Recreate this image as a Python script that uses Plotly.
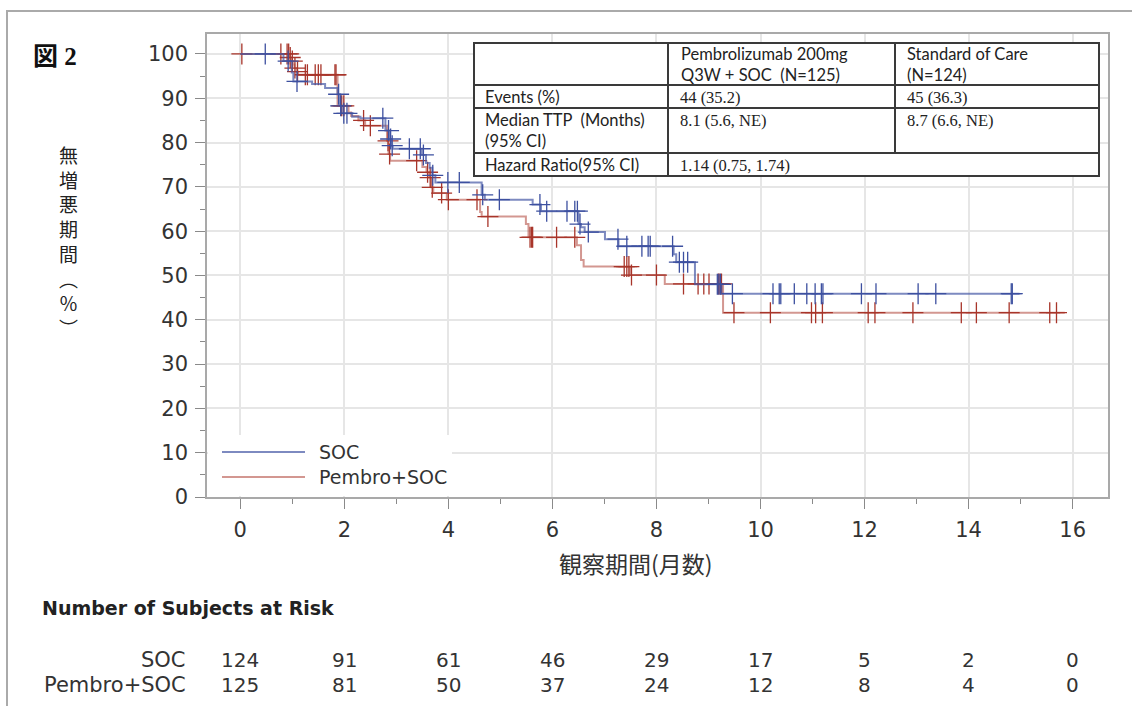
import plotly.graph_objects as go
import numpy as np

# ---------------- data ----------------
soc_times = [0, 0.83, 0.99, 1.02, 1.38, 1.63, 1.87, 1.92, 1.95, 2.15, 2.31, 2.79, 2.87, 2.90, 2.93,
             3.49, 3.57, 3.64, 3.69, 3.75, 4.64, 4.70, 5.62, 5.78, 6.50, 6.55, 6.62, 7.01, 7.27,
             8.33, 8.38, 8.74, 9.25, 14.98]
soc_surv = [100, 98.4, 95.8, 93.8, 93.2, 92.3, 90.9, 88.3, 86.6, 85.8, 85.5, 82.7, 80.8, 79.3, 78.6,
            77.2, 75.4, 74.3, 72.6, 71.0, 68.2, 67.1, 66.0, 64.5, 61.6, 60.9, 59.8, 58.2, 56.6,
            54.8, 53.0, 48.0, 45.9, 45.9]
soc_censor = [0.48, 0.92, 1.09, 1.89, 1.93, 1.99, 2.05, 2.74, 2.85, 2.89, 2.92, 3.25, 3.46, 3.52,
              3.70, 3.99, 4.21, 4.66, 4.98, 5.76, 5.89, 6.28, 6.43, 6.48, 6.53, 6.69, 7.26, 7.43,
              7.72, 7.84, 7.88, 8.31, 8.44, 8.52, 8.60, 9.17, 9.20, 9.23, 9.46, 10.24, 10.36,
              10.39, 10.65, 10.89, 11.05, 11.17, 11.20, 11.94, 12.22, 13.03, 13.37, 14.82, 14.84]

pem_times = [0, 0.95, 0.98, 1.01, 1.04, 1.08, 1.11, 1.87, 2.08, 2.13, 2.27, 2.40, 2.82, 2.85, 2.88,
             3.50, 3.58, 3.63, 3.67, 3.71, 3.97, 4.61, 4.64, 5.49, 5.54, 6.47, 6.55, 6.60, 7.49,
             8.16, 9.28, 15.85]
pem_surv = [100, 99.2, 98.4, 97.6, 96.8, 96.0, 95.3, 88.3, 86.8, 86.0, 85.0, 83.8, 80.4, 77.4, 75.9,
            74.5, 73.3, 72.1, 69.9, 68.6, 67.1, 64.3, 63.3, 61.6, 58.6, 56.8, 53.5, 52.0, 50.1,
            48.1, 41.6, 41.6]
pem_censor = [0.03, 0.78, 0.90, 0.93, 0.96, 1.00, 1.05, 1.10, 1.25, 1.29, 1.44, 1.50, 1.55, 1.82,
              1.84, 1.95, 1.99, 2.37, 2.50, 2.84, 2.87, 3.39, 3.60, 3.65, 3.69, 3.87, 4.00, 4.55,
              4.76, 5.57, 5.60, 5.62, 6.08, 6.43, 7.38, 7.43, 7.47, 7.52, 8.00, 8.52, 8.80, 8.91,
              9.01, 9.19, 9.22, 9.25, 9.49, 10.19, 10.98, 11.06, 11.19, 12.07, 12.20, 12.93,
              13.86, 14.15, 14.78, 15.56, 15.69]

series_names = ["SOC", "Pembro+SOC"]
risk_times = [0, 2, 4, 6, 8, 10, 12, 14, 16]
risk_soc = [124, 91, 61, 46, 29, 17, 5, 2, 0]
risk_pem = [125, 81, 50, 37, 24, 12, 8, 4, 0]

table_header = ["", "Pembrolizumab 200mg<br>Q3W + SOC  (N=125)", "Standard of Care<br>(N=124)"]
table_rows = ["Events (%)", "Median TTP  (Months)<br>(95% CI)", "Hazard Ratio(95% CI)"]
table_pem = ["44 (35.2)", "8.1 (5.6, NE)", "1.14 (0.75, 1.74)"]
table_soc = ["45 (36.3)", "8.7 (6.6, NE)", ""]

# ---------------- layout geometry (pixels) ----------------
W, H = 1132, 706
PL, PR, PT, PB = 207, 1108, 34, 497


def px(x):
    return (x - PL) / (PR - PL)


def py(y):
    return (PB - y) / (PB - PT)


def surv_at(t, times, surv):
    idx = np.searchsorted(np.array(times), np.array(t), side="right") - 1
    return [surv[i] for i in idx]


BLUE_LINE = "rgba(70,88,165,0.70)"
BLUE_MARK = "#3d50a0"
RED_LINE = "rgba(175,65,55,0.55)"
RED_MARK = "#a8352a"

fig = go.Figure()

for times, surv, cens, lc, mc, name in [
    (pem_times, pem_surv, pem_censor, RED_LINE, RED_MARK, series_names[1]),
    (soc_times, soc_surv, soc_censor, BLUE_LINE, BLUE_MARK, series_names[0]),
]:
    fig.add_trace(go.Scatter(x=times, y=surv, mode="lines", line=dict(color=lc, width=2, shape="hv"),
                             name=name, showlegend=False, hoverinfo="skip"))
    fig.add_trace(go.Scatter(x=cens, y=surv_at(cens, times, surv), mode="markers",
                             marker=dict(symbol="cross-thin", size=15, line=dict(color=mc, width=1.3)),
                             showlegend=False, hoverinfo="skip"))

shapes = []
annotations = []

# outer frame
shapes.append(dict(type="rect", xref="paper", yref="paper", x0=px(7), x1=px(1145), y0=py(11), y1=py(720),
                   line=dict(color="#aaaaaa", width=2), fillcolor="rgba(0,0,0,0)", layer="below"))

# legend (manual)
shapes.append(dict(type="rect", xref="paper", yref="paper", x0=px(PL + 1), x1=px(452), y0=py(435), y1=py(PB - 1),
                   line=dict(width=0), fillcolor="white", layer="above"))
for yy, col, nm in [(452, BLUE_LINE, series_names[0]), (477, RED_LINE, series_names[1])]:
    shapes.append(dict(type="line", xref="paper", yref="paper", x0=px(222), x1=px(305), y0=py(yy), y1=py(yy),
                       line=dict(color=col, width=2), layer="above"))
    annotations.append(dict(text=nm, xref="paper", yref="paper", x=px(317), y=py(yy), xanchor="left",
                            yanchor="middle", showarrow=False,
                            font=dict(family="DejaVu Sans", size=19, color="#333333")))

# stats table
TX = [474, 668, 895, 1099]
TY = [43, 85, 108, 153, 176]
tcol = "#3a3a3a"
shapes.append(dict(type="rect", xref="paper", yref="paper", x0=px(TX[0]), x1=px(TX[3]), y0=py(TY[0]), y1=py(TY[4]),
                   line=dict(color=tcol, width=2), fillcolor="white", layer="above"))
shapes.append(dict(type="line", xref="paper", yref="paper", x0=px(TX[1]), x1=px(TX[1]), y0=py(TY[0]), y1=py(TY[4]),
                   line=dict(color=tcol, width=2), layer="above"))
shapes.append(dict(type="line", xref="paper", yref="paper", x0=px(TX[2]), x1=px(TX[2]), y0=py(TY[0]), y1=py(TY[3]),
                   line=dict(color=tcol, width=2), layer="above"))
for yy in TY[1:4]:
    shapes.append(dict(type="line", xref="paper", yref="paper", x0=px(TX[0]), x1=px(TX[3]), y0=py(yy), y1=py(yy),
                       line=dict(color=tcol, width=2), layer="above"))

lab_font = dict(family="Lato, Open Sans, sans-serif", size=16.5, color="#222222")
val_font = dict(family="Liberation Serif, serif", size=16.5, color="#222222")

annotations.append(dict(text=table_header[1], xref="paper", yref="paper", x=px(679), y=py(64), xanchor="left",
                        yanchor="middle", align="left", showarrow=False, font=lab_font))
annotations.append(dict(text=table_header[2], xref="paper", yref="paper", x=px(905), y=py(64), xanchor="left",
                        yanchor="middle", align="left", showarrow=False, font=lab_font))
row_mid = [97, 130, 165]
row_top = [86, 109, 154]
for i in range(3):
    annotations.append(dict(text=table_rows[i], xref="paper", yref="paper", x=px(483), y=py(row_mid[i]),
                            xanchor="left", yanchor="middle", align="left", showarrow=False, font=lab_font))
    annotations.append(dict(text=table_pem[i], xref="paper", yref="paper", x=px(678), y=py(row_top[i]),
                            xanchor="left", yanchor="top", align="left", showarrow=False, font=val_font))
    if table_soc[i]:
        annotations.append(dict(text=table_soc[i], xref="paper", yref="paper", x=px(905), y=py(row_top[i]),
                                xanchor="left", yanchor="top", align="left", showarrow=False, font=val_font))

# figure label
annotations.append(dict(text="<b>図 2</b>", xref="paper", yref="paper", x=px(31), y=py(57), xanchor="left",
                        yanchor="middle", showarrow=False,
                        font=dict(family="Liberation Serif, Noto Sans CJK JP", size=25, color="#111111")))

# y title (vertical)
ytitle = "<br>".join(list("無増悪期間") + ["︵", "％", "︶"])
annotations.append(dict(text=ytitle, xref="paper", yref="paper", x=px(68), y=py(241), xanchor="center",
                        yanchor="middle", showarrow=False,
                        font=dict(family="Noto Sans CJK JP", size=19, color="#222222")))

# x title
annotations.append(dict(text="観察期間(月数)", xref="paper", yref="paper", x=px(636), y=py(563),
                        xanchor="center", yanchor="middle", showarrow=False,
                        font=dict(family="Noto Sans CJK JP", size=23, color="#333333")))

# risk table
annotations.append(dict(text="<b>Number of Subjects at Risk</b>", xref="paper", yref="paper", x=px(40), y=py(608),
                        xanchor="left", yanchor="middle", showarrow=False,
                        font=dict(family="DejaVu Sans", size=19, color="#222222")))
risk_font = dict(family="DejaVu Sans", size=20, color="#333333")
lab_risk_font = dict(family="DejaVu Sans", size=21, color="#333333")
for lab, vals, yy in [(series_names[0], risk_soc, 660), (series_names[1], risk_pem, 685)]:
    annotations.append(dict(text=lab, xref="paper", yref="paper", x=px(188), y=py(yy), xanchor="right",
                            yanchor="middle", showarrow=False, font=lab_risk_font))
    for t, v in zip(risk_times, vals):
        annotations.append(dict(text=str(v), xref="x", yref="paper", x=t, y=py(yy), xanchor="center",
                                yanchor="middle", showarrow=False, font=risk_font))

axis_common = dict(showgrid=True, gridcolor="#e6e6e6", gridwidth=1.5, showline=True, linecolor="#a9a9a9",
                   linewidth=1.5, mirror=True, ticks="outside", ticklen=10, tickcolor="#8a8a8a", tickwidth=1,
                   tickfont=dict(family="DejaVu Sans", size=21, color="#333333"), zeroline=False)

fig.update_layout(
    width=W, height=H,
    margin=dict(l=PL, r=W - PR, t=PT, b=H - PB),
    paper_bgcolor="white", plot_bgcolor="white",
    xaxis=dict(range=[-0.64, 16.68], tickmode="array", tickvals=risk_times, ticklabelstandoff=3,
               minor=dict(dtick=1, ticks="outside", ticklen=5, tickcolor="#8a8a8a", showgrid=False),
               **axis_common),
    yaxis=dict(range=[0, 104.5], tickmode="linear", tick0=0, dtick=10, ticklabelstandoff=3,
               minor=dict(dtick=5, ticks="outside", ticklen=5, tickcolor="#8a8a8a", showgrid=False),
               **axis_common),
    shapes=shapes, annotations=annotations, showlegend=False,
)

fig.write_html("out.html")
